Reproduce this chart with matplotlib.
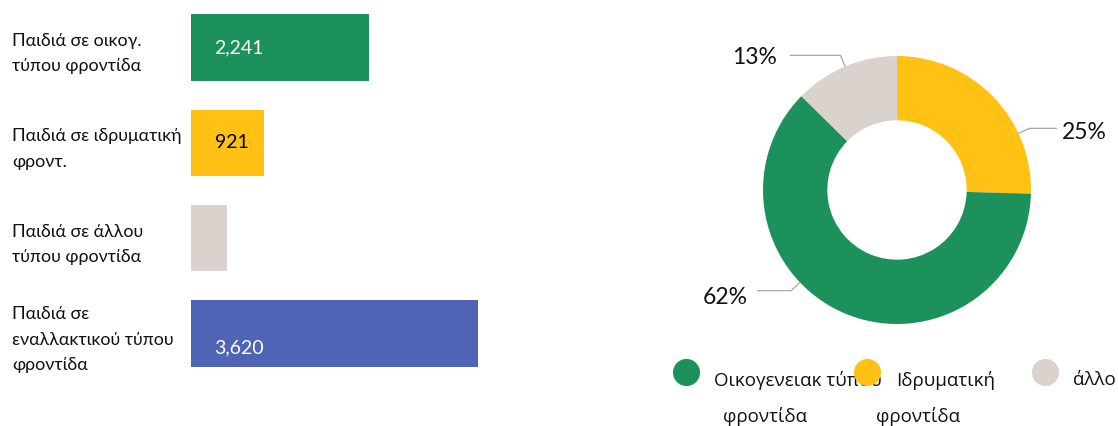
import matplotlib
matplotlib.use("Agg")
import matplotlib.pyplot as plt
import numpy as np

# ---- data ----
bar_labels = ["Παιδιά σε οικογ.\nτύπου φροντίδα",
              "Παιδιά σε ιδρυματική\nφροντ.",
              "Παιδιά σε άλλου\nτύπου φροντίδα",
              "Παιδιά σε\nεναλλακτικού τύπου\nφροντίδα"]
bar_values = [2241, 921, 458, 3620]
bar_value_text = ["2,241", "921", None, "3,620"]
bar_colors = ["#1C915B", "#FFC214", "#DAD3CD", "#5064B5"]

pie_labels = ["Οικογενειακ τύπου\nφροντίδα", "Ιδρυματική\nφροντίδα", "άλλο"]
pie_values = [2241, 921, 458]
pie_colors = ["#1C915B", "#FFC214", "#DAD3CD"]

FONT = "Lato"
plt.rcParams['font.family'] = [FONT, 'DejaVu Sans']

W, H = 1118, 426
fig = plt.figure(figsize=(W / 100, H / 100), dpi=100)

def px_axes(x0, y0, x1, y1):
    return fig.add_axes([x0 / W, 1 - y1 / H, (x1 - x0) / W, (y1 - y0) / H])

# ---- bar chart ----
axb = px_axes(191, 0, 478, 381)
y = np.arange(len(bar_values))
axb.barh(y, bar_values, height=0.7, color=bar_colors)
axb.set_xlim(0, max(bar_values))
axb.set_ylim(len(bar_values) - 0.5, -0.5)
axb.set_yticks(y)
axb.set_yticklabels(bar_labels, ha='left', fontsize=12.8, linespacing=1.72, color="#111111")
axb.tick_params(axis='y', length=0, pad=179 * 0.72)
axb.set_xticks([])
for s in axb.spines.values():
    s.set_visible(False)
for i, (v, t) in enumerate(zip(bar_values, bar_value_text)):
    if t is None:
        continue
    col = "black" if bar_colors[i] == "#FFC214" else "white"
    dy = 0.15 if i == 3 else 0.0
    axb.annotate(t, xy=(0, i + dy), xytext=(17, 0), textcoords="offset points",
                 ha='left', va='center', fontsize=14, color=col)

# ---- donut ----
cx, cy, half = 897, 190, 180
axp = px_axes(cx - half, cy - half, cx + half, cy + half)
r = half / 134.0
order = [1, 0, 2]  # clockwise from 12 o'clock: yellow, green, beige
vals = [pie_values[k] for k in order]
cols = [pie_colors[k] for k in order]
wedges, _ = axp.pie(vals, colors=cols, startangle=90, counterclock=False,
                    radius=1.0, wedgeprops=dict(width=0.48, edgecolor='none'))
axp.set_xlim(-r, r)
axp.set_ylim(-r, r)
axp.set_aspect('equal')
axp.axis('off')

total = sum(pie_values)
# label placement: leader anchor position within wedge (fraction), horizontal end x, text pos
anchor_frac = {0: 0.605, 1: 0.71, 2: 0.5}
line_end_x = {0: -1.045, 1: 1.194, 2: -0.80}
text_pos = {0: (-1.28, -0.80), 1: (1.40, 0.43), 2: (-1.06, 0.99)}
for w, k in zip(wedges, order):
    t1, t2 = w.theta1, w.theta2
    f = anchor_frac[k]
    ang = np.deg2rad(t2 - f * (t2 - t1))
    ex, ey = np.cos(ang), np.sin(ang)
    bx, by = 1.09 * np.cos(ang), 1.09 * np.sin(ang)
    axp.plot([ex, bx, line_end_x[k]], [ey, by, by], color='#A6A6A6', lw=0.9,
             clip_on=False, solid_capstyle='butt')
    pct = f"{round(100 * pie_values[k] / total):d}%"
    tx, ty = text_pos[k]
    axp.text(tx, ty, pct, ha='center', va='center', fontsize=16.5, color="#111111")

# ---- legend ----
axl = fig.add_axes([0, 0, 1, 1])
axl.set_xlim(0, W)
axl.set_ylim(H, 0)
axl.axis('off')
leg_marker_x = [686, 867, 1045]
leg_text1_x = [714, 896, 1073]
leg_text2_x = [723, 876, None]
for i, lab in enumerate(pie_labels):
    lines = lab.split("\n")
    axl.plot([leg_marker_x[i]], [372], 'o', ms=19.5, color=pie_colors[i],
             mec='none', zorder=2 + 2 * i)
    axl.text(leg_text1_x[i], 380, lines[0], ha='left', va='center',
             fontsize=13.5, family=["Open Sans", "DejaVu Sans"], color="#111111",
             zorder=3 + 2 * i)
    if len(lines) > 1:
        axl.text(leg_text2_x[i], 417, lines[1], ha='left', va='center',
                 fontsize=13.5, family=["Open Sans", "DejaVu Sans"], color="#111111",
                 zorder=3 + 2 * i)

fig.savefig("out.png", dpi=100, facecolor="white")
